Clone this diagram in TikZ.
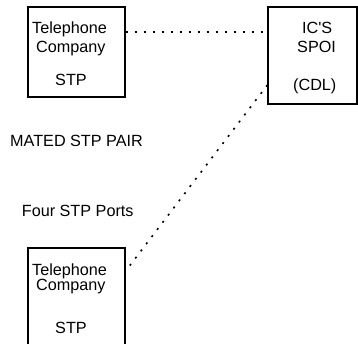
\documentclass[tikz,border=0pt]{standalone}
\usepackage{fontspec}
\setmainfont{Liberation Sans}
\begin{document}
\begin{tikzpicture}[x=1bp,y=-1bp,
  box/.style={draw=black, line width=1.3bp, rectangle, inner sep=0pt},
  lbl/.style={anchor=base west, inner sep=0pt, font=\fontsize{16.2bp}{18bp}\selectfont},
  dots/.style={line width=1.6bp, dash pattern=on 2bp off 7bp}]
\useasboundingbox (0,0) rectangle (358,344);
\clip (0,0) rectangle (358,344);
% boxes
\node[box, minimum width=97bp, minimum height=90bp] (b1) at (76.5,52) {};
\node[box, minimum width=89bp, minimum height=97bp] (b2) at (312.5,55.5) {};
\node[box, minimum width=97bp, minimum height=112bp] (b3) at (76.5,304) {};
% box texts
\node[lbl] (t1a) at (32,33) {Telephone};
\node[lbl] (t1b) at (36,52) {Company};
\node[lbl] (t1c) at (55,85) {STP};
\node[lbl] (t2a) at (302,33) {IC\textquotesingle S};
\node[lbl] (t2b) at (297,52) {SPOI};
\node[lbl] (t2c) at (293,90) {(CDL)};
\node[lbl] (t3a) at (32,275) {Telephone};
\node[lbl] (t3b) at (36,290) {Company};
\node[lbl] (t3c) at (55,333) {STP};
% free labels
\node[lbl] (mated) at (10,146) {MATED STP PAIR};
\node[lbl] (ports) at (21.7,216) {Four STP Ports};
% connectors
\coordinate (h1) at (b1.east |- 0,32);
\coordinate (h2) at (b2.west |- 0,32);
\draw[dots] (h1) -- (h2);
\coordinate (d1) at (b2.west |- 0,85);
\coordinate (d2) at (b3.east |- 0,271);
\draw[dots] (d1) -- (d2);
\end{tikzpicture}
\end{document}
